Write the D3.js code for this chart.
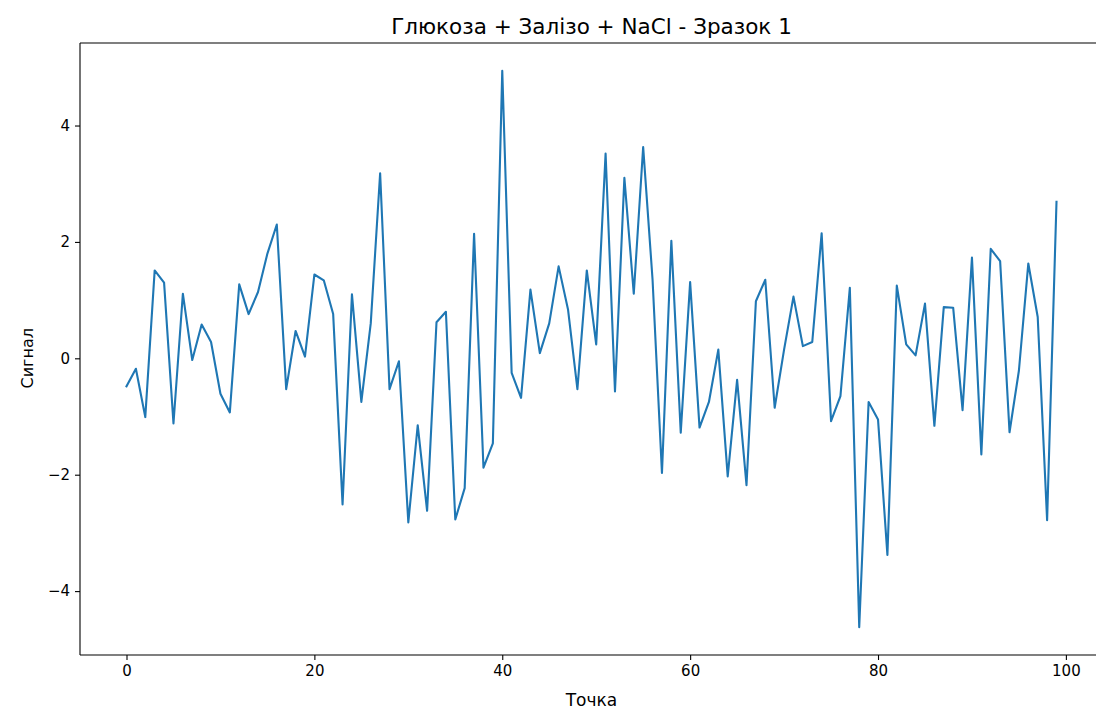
<!DOCTYPE html>
<html>
<head>
<meta charset="utf-8">
<script src="https://cdn.jsdelivr.net/npm/d3@7"></script>
<style>
  html, body { margin: 0; padding: 0; background: #fff; }
  svg { display: block; font-family: "DejaVu Sans", sans-serif; }
</style>
</head>
<body>
<svg id="chart" width="1096" height="711"></svg>
<script>
const title = "Глюкоза + Залізо + NaCl - Зразок 1";
const xLabel = "Точка";
const yLabel = "Сигнал";
const xTicks = [0, 20, 40, 60, 80, 100];
const yTicks = [-4, -2, 0, 2, 4];
const signal = [
  -0.48, -0.18, -1.01, 1.51, 1.30, -1.12, 1.11, -0.03, 0.58, 0.28,
  -0.61, -0.93, 1.27, 0.76, 1.14, 1.80, 2.30, -0.53, 0.47, 0.03,
  1.44, 1.34, 0.76, -2.51, 1.10, -0.75, 0.60, 3.18, -0.53, -0.05,
  -2.82, -1.15, -2.62, 0.62, 0.80, -2.77, -2.23, 2.14, -1.88, -1.46,
  4.94, -0.25, -0.68, 1.18, 0.09, 0.60, 1.58, 0.84, -0.53, 1.51,
  0.24, 3.52, -0.57, 3.10, 1.11, 3.63, 1.35, -1.97, 2.02, -1.28,
  1.31, -1.19, -0.75, 0.15, -2.03, -0.37, -2.18, 0.98, 1.35, -0.85,
  0.15, 1.06, 0.21, 0.28, 2.15, -1.08, -0.65, 1.21, -4.62, -0.75,
  -1.05, -3.38, 1.25, 0.24, 0.05, 0.94, -1.16, 0.88, 0.87, -0.89,
  1.73, -1.65, 1.88, 1.67, -1.27, -0.21, 1.63, 0.71, -2.78, 2.69
];

(function () {
const points = signal.map((v, i) => ({ x: i, y: v }));

const svg = d3.select("#chart");
const mLeft = 80, mRight = 1103, mTop = 43, mBottom = 655;

const n = signal.length - 1;
const xPad = n * 0.05;
const yMin = d3.min(signal), yMax = d3.max(signal);
const yPad = (yMax - yMin) * 0.05;

const x = d3.scaleLinear().domain([-xPad, n + xPad]).range([mLeft, mRight]);
const y = d3.scaleLinear().domain([yMin - yPad, yMax + yPad]).range([mBottom, mTop]);

svg.append("defs").append("clipPath").attr("id", "clip")
  .append("rect").attr("x", mLeft).attr("y", mTop).attr("width", mRight - mLeft).attr("height", mBottom - mTop);

svg.append("path")
  .datum(points)
  .attr("clip-path", "url(#clip)")
  .attr("fill", "none")
  .attr("stroke", "#1f77b4")
  .attr("stroke-width", 2.1)
  .attr("stroke-linejoin", "round")
  .attr("stroke-linecap", "square")
  .attr("d", d3.line().x(d => x(d.x)).y(d => y(d.y)));

const xAxis = svg.append("g")
  .attr("transform", `translate(0,${mBottom})`)
  .call(d3.axisBottom(x).tickValues(xTicks).tickSize(5).tickPadding(5).tickFormat(d3.format("d")));
const yAxis = svg.append("g")
  .attr("transform", `translate(${mLeft},0)`)
  .call(d3.axisLeft(y).tickValues(yTicks).tickSize(5).tickPadding(5).tickFormat(d3.format("d")));

[xAxis, yAxis].forEach(g => {
  g.select(".domain").remove();
  g.selectAll(".tick line").attr("stroke", "#000").attr("stroke-width", 1.1);
  g.selectAll(".tick text").attr("fill", "#000").style("font-size", "15px").style("font-family", "DejaVu Sans");
});

const spine = svg.append("g").attr("stroke", "#000").attr("stroke-width", 1.1).attr("fill", "none");
spine.append("line").attr("x1", mLeft).attr("x2", mLeft).attr("y1", mTop).attr("y2", mBottom);
spine.append("line").attr("x1", mLeft).attr("x2", mRight).attr("y1", mTop).attr("y2", mTop);
spine.append("line").attr("x1", mLeft).attr("x2", mRight).attr("y1", mBottom).attr("y2", mBottom);
spine.append("line").attr("x1", mRight).attr("x2", mRight).attr("y1", mTop).attr("y2", mBottom);

svg.append("text")
  .attr("x", (mLeft + mRight) / 2).attr("y", 34)
  .attr("text-anchor", "middle")
  .style("font-size", "21.5px")
  .text(title);

svg.append("text")
  .attr("x", (mLeft + mRight) / 2).attr("y", 706)
  .attr("text-anchor", "middle")
  .style("font-size", "17px")
  .text(xLabel);

svg.append("text")
  .attr("transform", `translate(33,${y(0)}) rotate(-90)`)
  .attr("text-anchor", "middle")
  .style("font-size", "16px")
  .text(yLabel);
})();
</script>
</body>
</html>
